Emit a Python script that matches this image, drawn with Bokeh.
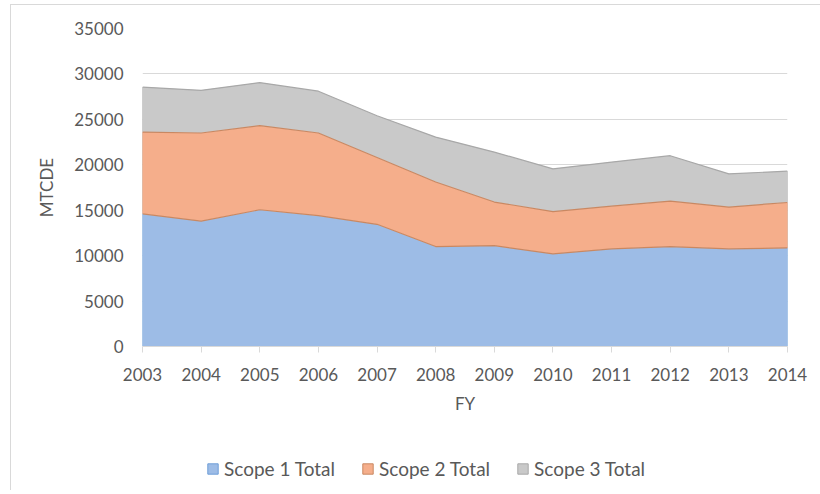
from bokeh.plotting import figure
from bokeh.models import Range1d, FixedTicker, Legend, LegendItem
from bokeh.layouts import column
from bokeh.embed import file_html
from bokeh.resources import INLINE
import numpy as np

years = [2003, 2004, 2005, 2006, 2007, 2008, 2009, 2010, 2011, 2012, 2013, 2014]
year_labels = ["2003", "2004", "2005", "2006", "2007", "2008", "2009", "2010", "2011", "2012", "2013", "2014"]
scope1 = [14600, 13800, 15050, 14400, 13450, 11000, 11100, 10200, 10750, 11000, 10750, 10850]
scope2 = [9000, 9700, 9250, 9100, 7350, 7100, 4800, 4650, 4700, 5000, 4600, 5000]
scope3 = [4950, 4700, 4750, 4600, 4600, 4950, 5500, 4700, 4850, 5000, 3650, 3450]
series_names = ["Scope 1 Total", "Scope 2 Total", "Scope 3 Total"]
y_ticks = [0, 5000, 10000, 15000, 20000, 25000, 30000, 35000]

fills = ["#9dbce6", "#f5ae8b", "#c9c9c9"]
edges = ["#6f9fd8", "#c98862", "#a8a8a8"]
FONT = "Lato"
TXT = "#595959"

p = figure(frame_width=645, frame_height=318, output_backend="svg", toolbar_location=None,
           x_range=Range1d(years[0], years[-1]), y_range=Range1d(0, 35000),
           min_border_left=132, min_border_right=33, min_border_top=24, min_border_bottom=94)
p.outline_line_color = None
p.border_fill_color = None
p.background_fill_color = None

s1 = np.array(scope1, dtype=float)
s2 = s1 + np.array(scope2, dtype=float)
s3 = s2 + np.array(scope3, dtype=float)
zero = np.zeros_like(s1)

p.varea(x=years, y1=zero, y2=s1, fill_color=fills[0])
p.varea(x=years, y1=s1, y2=s2, fill_color=fills[1])
p.varea(x=years, y1=s2, y2=s3, fill_color=fills[2])
p.line(x=years, y=s1, line_color=edges[1], line_width=1.2)
p.line(x=years, y=s2, line_color=edges[1], line_width=1.2)
p.line(x=years, y=s3, line_color=edges[2], line_width=1.2)
p.line(x=[years[-1], years[-1]], y=[0, s1[-1]], line_color=edges[0], line_width=1)
p.line(x=[years[-1], years[-1]], y=[s1[-1], s2[-1]], line_color=edges[1], line_width=1)
p.line(x=[years[-1], years[-1]], y=[s2[-1], s3[-1]], line_color=edges[2], line_width=1)
p.line(x=[years[0], years[0]], y=[0, s1[0]], line_color=edges[0], line_width=1)
p.line(x=[years[0], years[0]], y=[s1[0], s2[0]], line_color=edges[1], line_width=1)
p.line(x=[years[0], years[0]], y=[s2[0], s3[0]], line_color=edges[2], line_width=1)

# grid
p.xgrid.grid_line_color = None
p.ygrid.grid_line_color = "#d9d9d9"
p.ygrid.ticker = FixedTicker(ticks=y_ticks)

# x axis
xa = p.xaxis[0]
xa.ticker = FixedTicker(ticks=years)
xa.major_label_overrides = {y: l for y, l in zip(years, year_labels)}
xa.axis_line_color = "#d9d9d9"
xa.major_tick_line_color = "#d9d9d9"
xa.major_tick_out = 6
xa.major_tick_in = 0
xa.minor_tick_line_color = None
xa.major_label_text_font = FONT
xa.major_label_text_font_size = "17px"
xa.major_label_text_color = TXT
xa.major_label_standoff = 15
xa.axis_label = "FY"
xa.axis_label_text_font = FONT
xa.axis_label_text_font_size = "17px"
xa.axis_label_text_font_style = "normal"
xa.axis_label_text_color = TXT
xa.axis_label_standoff = 9

# y axis
ya = p.yaxis[0]
ya.ticker = FixedTicker(ticks=y_ticks)
ya.axis_line_color = None
ya.major_tick_line_color = None
ya.minor_tick_line_color = None
ya.major_tick_out = 0
ya.major_tick_in = 0
ya.major_label_text_font = FONT
ya.major_label_text_font_size = "17px"
ya.major_label_text_color = TXT
ya.major_label_standoff = 19
ya.axis_label = "MTCDE"
ya.axis_label_text_font = FONT
ya.axis_label_text_font_size = "17px"
ya.axis_label_text_font_style = "normal"
ya.axis_label_text_color = TXT
ya.axis_label_standoff = 14

# legend strip (separate small figure below the chart); swatch renderers sit outside its visible range
lf = figure(frame_width=810, frame_height=50, output_backend="svg", toolbar_location=None,
            x_range=Range1d(0, 1), y_range=Range1d(0, 1),
            x_axis_location=None, y_axis_location=None,
            min_border_left=0, min_border_right=0, min_border_top=0, min_border_bottom=0)
lf.outline_line_color = None
lf.border_fill_color = None
lf.background_fill_color = None
lf.xgrid.grid_line_color = None
lf.ygrid.grid_line_color = None
lr = [lf.quad(left=[-3], right=[-2], top=[-2], bottom=[-3],
              fill_color=fills[i], line_color=edges[i], line_width=1)
      for i in range(3)]

legend = Legend(items=[LegendItem(label=n, renderers=[r]) for n, r in zip(series_names, lr)],
                orientation="horizontal", location=(196, 10))
legend.border_line_color = None
legend.background_fill_color = None
legend.label_text_font = FONT
legend.label_text_font_size = "19px"
legend.label_text_color = TXT
legend.glyph_width = 13
legend.glyph_height = 13
legend.label_standoff = 5
legend.spacing = 26
legend.margin = 0
legend.padding = 4
lf.add_layout(legend, "center")

layout = column(p, lf, spacing=0)
layout.styles = {"margin-left": "10px", "margin-top": "4px",
                 "box-shadow": "inset 1px 1px 0 #d9d9d9", "background": "white"}

open("out.html", "w").write(file_html(layout, INLINE))
